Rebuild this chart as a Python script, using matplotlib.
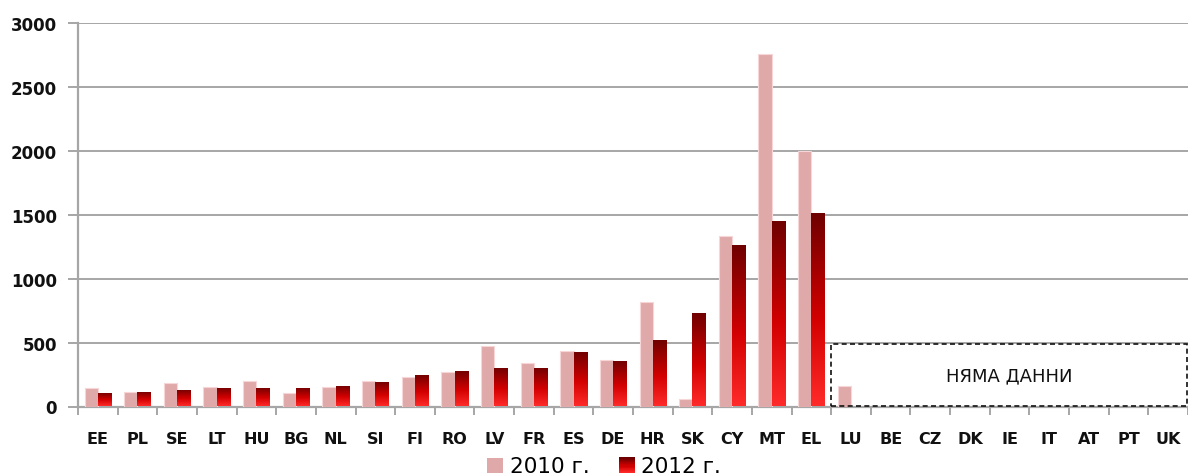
import numpy as np
import matplotlib
matplotlib.use("Agg")
import matplotlib.pyplot as plt
from matplotlib.colors import LinearSegmentedColormap
from matplotlib.patches import Rectangle
from matplotlib.legend_handler import HandlerBase

# Country codes in display order
countries = ["EE", "PL", "SE", "LT", "HU", "BG", "NL", "SI", "FI", "RO",
             "LV", "FR", "ES", "DE", "HR", "SK", "CY", "MT", "EL", "LU",
             "BE", "CZ", "DK", "IE", "IT", "AT", "PT", "UK"]

# Values per country (None = not available)
values_2010 = [142, 115, 187, 155, 200, 108, 155, 203, 234, 268,
               471, 339, 432, 367, 818, 55, 1333, 2755, 2000, 164,
               None, None, None, None, None, None, None, None]
values_2012 = [105, 115, 132, 145, 145, 145, 160, 195, 247, 274,
               302, 302, 428, 352, 516, 727, 1266, 1453, 1516, None,
               None, None, None, None, None, None, None, None]

series_labels = ["2010 г.", "2012 г."]
no_data_label = "НЯМА ДАННИ"
no_data_first = "LU"
no_data_top = 490
yticks = [0, 500, 1000, 1500, 2000, 2500, 3000]

pink = "#e0a9a9"
pink_edge = "#f6d6d6"
grid_gray = "#a6a6a6"
red_grad = LinearSegmentedColormap.from_list(
    "redgrad", [(0.0, "#ff2b2b"), (0.45, "#d20000"), (1.0, "#6e0000")])

fig = plt.figure(figsize=(11.88, 4.77), dpi=100)
ax = fig.add_axes([78 / 1188, 1 - 407.5 / 477, 1 - 78 / 1188, (407.5 - 23.7) / 477])

x = np.arange(len(countries))
w = 0.335

v10 = np.array([np.nan if v is None else v for v in values_2010], dtype=float)
v12 = np.array([np.nan if v is None else v for v in values_2012], dtype=float)

ax.bar(x - w / 2, np.nan_to_num(v10), width=w, color=pink,
       edgecolor=pink_edge, linewidth=0.8, zorder=3)
bars12 = ax.bar(x + w / 2, np.nan_to_num(v12), width=w, color="none",
                edgecolor="none", zorder=3)

# vertical gradient fill inside each 2012 bar
grad = np.linspace(0, 1, 256).reshape(-1, 1)
for b in bars12:
    h = b.get_height()
    if h <= 0:
        continue
    x0 = b.get_x()
    im = ax.imshow(grad, cmap=red_grad, origin="lower", aspect="auto",
                   extent=[x0, x0 + b.get_width(), 0, h], zorder=3,
                   interpolation="bilinear")
    im.set_clip_path(b)

ax.set_xlim(-0.5, len(countries) - 0.5)
ax.set_ylim(0, 3000)
ax.set_yticks(yticks)
ax.set_yticklabels([str(t) for t in yticks])
ax.yaxis.grid(True, color=grid_gray, linewidth=1.4, zorder=0)
ax.set_axisbelow(True)

ax.set_xticks(x)
ax.set_xticklabels(countries)
ax.set_xticks(np.arange(len(countries) + 1) - 0.5, minor=True)
ax.tick_params(axis="x", which="major", length=0, pad=18, labelsize=11.5,
               labelcolor="#111111")
ax.tick_params(axis="x", which="minor", length=6, width=1.4, color=grid_gray,
               direction="out")
ax.tick_params(axis="y", length=7, width=1.4, color=grid_gray, pad=8,
               labelsize=12, labelcolor="#111111")
for lbl in ax.get_xticklabels() + ax.get_yticklabels():
    lbl.set_fontweight("bold")

for side in ["top", "right"]:
    ax.spines[side].set_visible(False)
for side in ["left", "bottom"]:
    ax.spines[side].set_color(grid_gray)
    ax.spines[side].set_linewidth(1.6)

# dashed box over countries with no data
i0 = countries.index(no_data_first)
box_left = i0 - 0.5
box_right = len(countries) - 0.53
box = Rectangle((box_left, 5), box_right - box_left, no_data_top - 5,
                fill=False, edgecolor="#111111", linestyle=(0, (3, 2)),
                linewidth=1.2, zorder=4, clip_on=False)
ax.add_patch(box)
ax.text((box_left + box_right) / 2, no_data_top * 0.49, no_data_label,
        ha="center", va="center", fontsize=13, color="#111111", zorder=5)


class GradientHandler(HandlerBase):
    def create_artists(self, legend, orig_handle, xdescent, ydescent,
                       width, height, fontsize, trans):
        n = 14
        arts = []
        side = height * 1.05
        x0 = xdescent + width - side
        for k in range(n):
            r = Rectangle((x0, -ydescent + side * k / n - 1), side, side / n + 0.3,
                          facecolor=red_grad(k / (n - 1)), edgecolor="none",
                          transform=trans)
            arts.append(r)
        return arts


class SquareHandler(HandlerBase):
    def create_artists(self, legend, orig_handle, xdescent, ydescent,
                       width, height, fontsize, trans):
        side = height * 1.05
        r = Rectangle((xdescent + width - side, -ydescent - 1), side, side,
                      facecolor=pink, edgecolor="none", transform=trans)
        return [r]


h10 = Rectangle((0, 0), 1, 1)
h12 = Rectangle((0, 0), 1, 1)
fig.legend([h10, h12], series_labels, loc="center",
           bbox_to_anchor=(0.508, 1 - 467 / 477), ncol=2, frameon=False,
           fontsize=15.5, handlelength=0.8, handletextpad=0.3,
           columnspacing=1.3, borderpad=0, borderaxespad=0,
           handler_map={h10: SquareHandler(), h12: GradientHandler()})

fig.savefig("out.png", dpi=100)
